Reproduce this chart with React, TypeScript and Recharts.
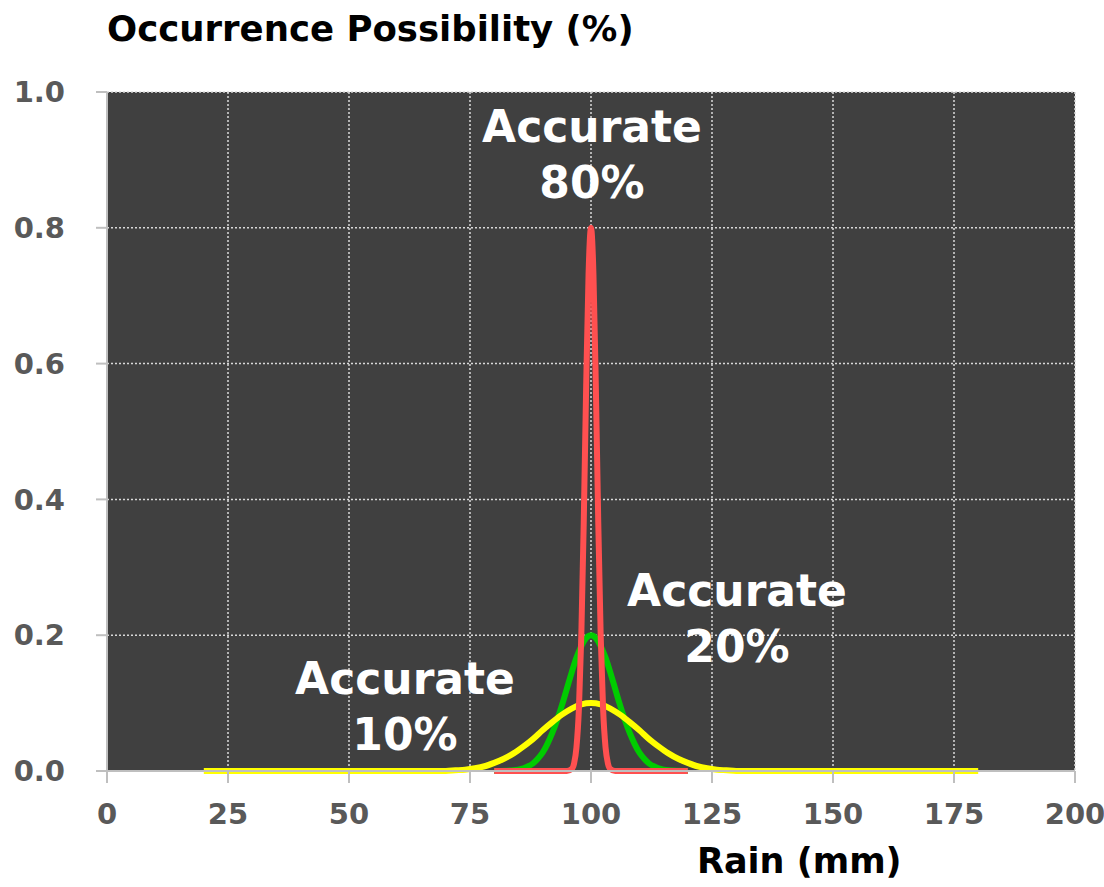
import React from 'react';
import {
  LineChart,
  Line,
  XAxis,
  YAxis,
  CartesianGrid,
} from 'recharts';

// rain amount (mm) and occurrence possibility
const X_TICKS = [0, 25, 50, 75, 100, 125, 150, 175, 200];
const Y_TICKS = [0, 0.2, 0.4, 0.6, 0.8, 1.0];

// accurate 10% (yellow)
const X_YELLOW = [20, 50, 66, 70, 72, 74, 76, 78, 80, 82, 84, 86, 88, 90, 92, 94, 96, 98, 100, 102, 104, 106, 108, 110, 112, 114, 116, 118, 120, 122, 124, 126, 128, 130, 134, 150, 180];
const Y_YELLOW = [0, 0, 0, 0, 0.001, 0.002, 0.004, 0.007, 0.012, 0.018, 0.026, 0.036, 0.047, 0.06, 0.072, 0.083, 0.092, 0.098, 0.1, 0.098, 0.092, 0.083, 0.072, 0.06, 0.047, 0.036, 0.026, 0.018, 0.012, 0.007, 0.004, 0.002, 0.001, 0, 0, 0, 0];

// accurate 20% (green)
const X_GREEN = [80, 84, 86, 88, 89, 90, 91, 92, 93, 94, 95, 96, 97, 98, 99, 100, 101, 102, 103, 104, 105, 106, 107, 108, 109, 110, 111, 112, 114, 116, 120];
const Y_GREEN = [0, 0.001, 0.004, 0.011, 0.018, 0.027, 0.04, 0.056, 0.075, 0.097, 0.121, 0.145, 0.167, 0.184, 0.196, 0.2, 0.196, 0.184, 0.167, 0.145, 0.121, 0.097, 0.075, 0.056, 0.04, 0.027, 0.018, 0.011, 0.004, 0.001, 0];

// accurate 80% (red)
const X_RED = [80, 90, 94, 95, 96, 96.5, 97, 97.5, 98, 98.5, 99, 99.5, 100, 100.5, 101, 101.5, 102, 102.5, 103, 103.5, 104, 105, 106, 110, 120];
const Y_RED = [0, 0, 0, 0, 0.003, 0.011, 0.035, 0.091, 0.2, 0.366, 0.566, 0.733, 0.8, 0.733, 0.566, 0.366, 0.2, 0.091, 0.035, 0.011, 0.003, 0, 0, 0, 0];

const toPoints = (xs: number[], ys: number[]) => xs.map((x, i) => ({ x, y: ys[i] }));

const yellowData = toPoints(X_YELLOW, Y_YELLOW);
const greenData = toPoints(X_GREEN, Y_GREEN);
const redData = toPoints(X_RED, Y_RED);

const FONT = '"DejaVu Sans", Verdana, sans-serif';
const tickStyle = { fill: '#595959', fontSize: 29, fontWeight: 'bold', fontFamily: FONT };

const Note = ({ cx, top, lines }: { cx: number; top: number; lines: string[] }) => (
  <div
    style={{
      position: 'absolute',
      left: cx - 150,
      top,
      width: 300,
      textAlign: 'center',
      color: '#ffffff',
      fontFamily: FONT,
      fontWeight: 'bold',
      fontSize: 44,
      lineHeight: '56px',
      pointerEvents: 'none',
    }}
  >
    {lines.map((l) => (
      <div key={l}>{l}</div>
    ))}
  </div>
);

export default function App() {
  return (
    <div style={{ position: 'absolute', left: 0, top: 0, width: 1104, height: 887, background: '#fff' }}>
      <div
        style={{
          position: 'absolute',
          left: 107,
          top: 11,
          fontFamily: FONT,
          fontWeight: 'bold',
          fontSize: 35.5,
          lineHeight: '35px',
          color: '#000',
          whiteSpace: 'nowrap',
        }}
      >
        Occurrence Possibility (%)
      </div>

      <LineChart
        width={1104}
        height={887}
        margin={{ top: 92, right: 29, bottom: 0, left: 0 }}
      >
        <CartesianGrid
          fill="#404040"
          stroke="#d9d9d9"
          strokeDasharray="2 2"
          strokeWidth={1.5}
        />
        <XAxis
          dataKey="x"
          type="number"
          domain={[0, 200]}
          ticks={X_TICKS}
          height={116}
          stroke="#bfbfbf"
          strokeWidth={2}
          tickSize={12}
          tickMargin={20}
          tick={tickStyle}
        />
        <YAxis
          dataKey="y"
          type="number"
          domain={[0, 1]}
          ticks={Y_TICKS}
          width={107}
          stroke="#bfbfbf"
          strokeWidth={2}
          tickSize={11}
          tickMargin={31}
          tick={tickStyle}
          tickFormatter={(v: number) => v.toFixed(1)}
        />
        <Line
          data={greenData}
          dataKey="y"
          type="monotone"
          stroke="#00cc00"
          strokeWidth={6}
          dot={false}
          activeDot={false}
          isAnimationActive={false}
        />
        <Line
          data={yellowData}
          dataKey="y"
          type="monotone"
          stroke="#ffff00"
          strokeWidth={6}
          dot={false}
          activeDot={false}
          isAnimationActive={false}
        />
        <Line
          data={redData}
          dataKey="y"
          type="monotone"
          stroke="#ff5050"
          strokeWidth={6}
          dot={false}
          activeDot={false}
          isAnimationActive={false}
        />
      </LineChart>

      <Note cx={592} top={99} lines={['Accurate', '80%']} />
      <Note cx={737} top={563} lines={['Accurate', '20%']} />
      <Note cx={405} top={651} lines={['Accurate', '10%']} />

      <div
        style={{
          position: 'absolute',
          left: 697,
          top: 844,
          fontFamily: FONT,
          fontWeight: 'bold',
          fontSize: 35,
          lineHeight: '35px',
          color: '#000',
          whiteSpace: 'nowrap',
        }}
      >
        Rain (mm)
      </div>
    </div>
  );
}
